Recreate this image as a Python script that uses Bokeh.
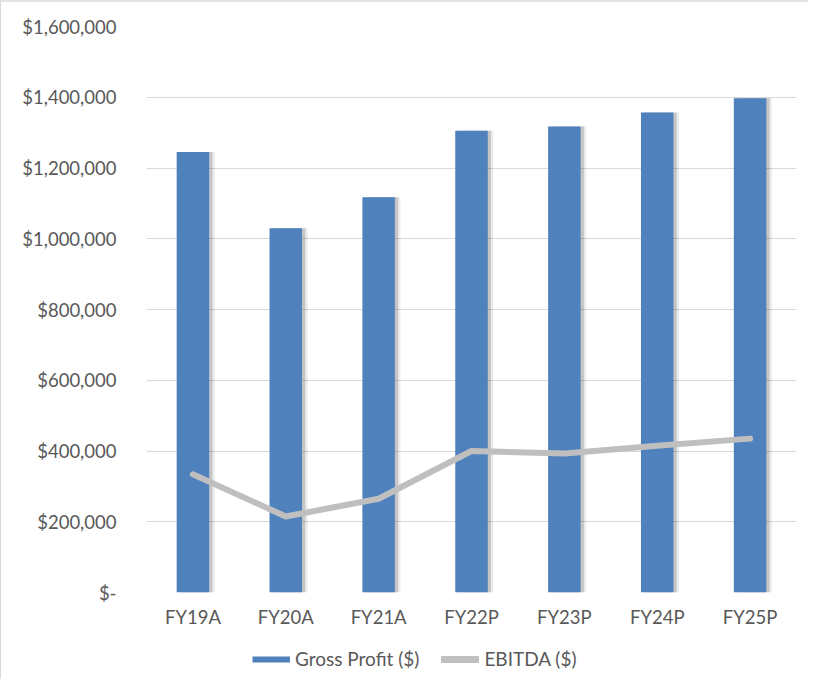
from bokeh.plotting import figure
from bokeh.layouts import column
from bokeh.models import FixedTicker, CustomJSTickFormatter, Legend, LegendItem, ColumnDataSource
from bokeh.transform import dodge
from bokeh.embed import file_html
from bokeh.resources import INLINE

categories = ["FY19A", "FY20A", "FY21A", "FY22P", "FY23P", "FY24P", "FY25P"]
gross_profit = [1245000, 1030000, 1117000, 1305000, 1317000, 1357000, 1397000]
ebitda = [334000, 215000, 265000, 400000, 393000, 415000, 435000]
y_ticks = [0, 200000, 400000, 600000, 800000, 1000000, 1200000, 1400000, 1600000]
series_names = ["Gross Profit ($)", "EBITDA ($)"]

src = ColumnDataSource(dict(cat=categories, gp=gross_profit, eb=ebitda))

FONT = "Lato"
TXT = "#595959"
BLUE = "#4F81BD"
GREY = "#BFBFBF"
FS = "18.5px"

p = figure(x_range=categories, y_range=(0, 1600000),
           frame_width=650, frame_height=566,
           output_backend="svg", toolbar_location=None,
           min_border_left=145, min_border_right=12, min_border_top=24, min_border_bottom=44)
p.x_range.range_padding = 0
p.outline_line_color = None

# bar shadows
p.vbar(x=dodge("cat", 0.06, range=p.x_range), top="gp", width=0.35, source=src,
       fill_color="#000000", fill_alpha=0.08, line_color=None)
p.vbar(x=dodge("cat", 0.035, range=p.x_range), top="gp", width=0.35, source=src,
       fill_color="#000000", fill_alpha=0.16, line_color=None)
p.vbar(x="cat", top="gp", width=0.35, source=src, fill_color=BLUE, line_color=None)
p.line(x="cat", y="eb", source=src, line_color=GREY, line_width=6,
       line_join="round", line_cap="round")

p.yaxis.ticker = FixedTicker(ticks=y_ticks)
p.yaxis.formatter = CustomJSTickFormatter(code="""
if (tick == 0) { return "$-"; }
return "$" + tick.toLocaleString("en-US");
""")
for ax in (p.xaxis, p.yaxis):
    ax.axis_line_color = None
    ax.major_tick_line_color = None
    ax.minor_tick_line_color = None
    ax.major_label_text_font = FONT
    ax.major_label_text_font_size = FS
    ax.major_label_text_color = TXT
p.yaxis.major_label_standoff = 24
p.xaxis.major_label_standoff = 7

p.xgrid.grid_line_color = None
p.ygrid.grid_line_color = "#d9d9d9"
p.ygrid.grid_line_width = 1

# legend figure
lg = figure(width=807, height=43, x_range=(0, 1), y_range=(0, 1),
            output_backend="svg", toolbar_location=None,
            min_border=0)
lg.axis.visible = False
lg.grid.visible = False
lg.outline_line_color = None
r1 = lg.line(x=[-5, -4], y=[-5, -5], line_color=BLUE, line_width=6)
r2 = lg.line(x=[-5, -4], y=[-5, -5], line_color=GREY, line_width=7, line_cap="round")
legend = Legend(items=[LegendItem(label=series_names[0], renderers=[r1]),
                       LegendItem(label=series_names[1], renderers=[r2])],
                orientation="horizontal", location=(106, 9),
                label_text_font=FONT, label_text_font_size="19px", label_text_color=TXT,
                glyph_width=38, glyph_height=20, label_height=20, label_standoff=5, spacing=22,
                border_line_color=None, background_fill_alpha=0, margin=0, padding=2)
lg.add_layout(legend, "center")

layout = column(p, lg, spacing=0)
layout.styles = {"border-left": "1px solid #d9d9d9", "border-top": "2px solid #e3e3e3"}

open("out.html", "w").write(file_html(layout, INLINE))
